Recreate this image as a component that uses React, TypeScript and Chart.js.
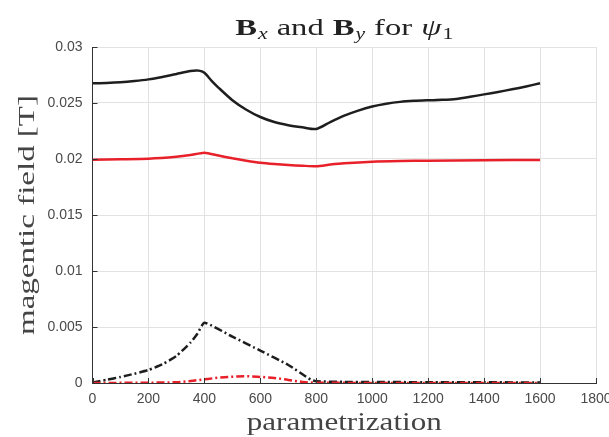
import React, { useEffect, useRef } from "react";
import { Chart, registerables } from "chart.js";

Chart.register(...registerables);

// ---- data ----
const xBx = [0, 50, 100, 150, 200, 250, 300, 350, 380, 400, 425, 450, 500, 550, 600, 650, 700, 750, 800, 850, 900, 950, 1000, 1050, 1100, 1150, 1200, 1250, 1300, 1350, 1400, 1450, 1500, 1550, 1600];
const bxSolid = [0.02676, 0.02679, 0.02685, 0.02696, 0.02711, 0.02733, 0.02759, 0.02786, 0.02789, 0.0277, 0.027, 0.02638, 0.02525, 0.0244, 0.02375, 0.0233, 0.02302, 0.02283, 0.02268, 0.0233, 0.02387, 0.02432, 0.02468, 0.02493, 0.0251, 0.02519, 0.02524, 0.02528, 0.02536, 0.02555, 0.02577, 0.02599, 0.02622, 0.02648, 0.02676];

const xBy = [0, 100, 200, 300, 350, 400, 450, 500, 550, 600, 650, 700, 750, 800, 850, 900, 1000, 1100, 1200, 1400, 1600];
const bySolid = [0.01994, 0.01998, 0.02003, 0.0202, 0.02035, 0.02056, 0.02031, 0.02006, 0.01985, 0.01967, 0.01955, 0.01946, 0.0194, 0.01935, 0.0195, 0.01962, 0.01976, 0.01982, 0.01985, 0.01989, 0.01991];

const xBxDash = [0, 50, 100, 150, 200, 250, 300, 350, 375, 400, 500, 600, 700, 780, 800, 900, 1000, 1200, 1400, 1600];
const bxDash = [0.00005, 0.00028, 0.00054, 0.00083, 0.00116, 0.00167, 0.00241, 0.0036, 0.0044, 0.00539, 0.00414, 0.00289, 0.00161, 0.0003, 0.00015, 0.0001, 0.00009, 0.00007, 0.00006, 0.00005];

const xByDash = [0, 200, 300, 350, 400, 450, 500, 550, 600, 650, 700, 750, 800, 1000, 1200, 1400, 1600];
const byDash = [0, 0.00003, 0.00007, 0.00018, 0.00033, 0.00047, 0.00056, 0.0006, 0.00054, 0.00045, 0.00027, 0.0001, 0.00002, 0.00001, 0.00001, 0.00001, 0.00001];

const xTicks = [0, 200, 400, 600, 800, 1000, 1200, 1400, 1600, 1800];
const xTickLabels = ["0", "200", "400", "600", "800", "1000", "1200", "1400", "1600", "1800"];
const yTicks = [0, 0.005, 0.01, 0.015, 0.02, 0.025, 0.03];
const yTickLabels = ["0", "0.005", "0.01", "0.015", "0.02", "0.025", "0.03"];

const xTitle = "parametrization";
const yTitle = "magentic field [T]";

const BLACK = "#1e1e1e";
const RED = "#e8202a";
const SERIF = "'Liberation Serif', 'DejaVu Serif', serif";
const SANS = "'Liberation Sans', Arial, sans-serif";

const pts = (xs: number[], ys: number[]) => xs.map((x, i) => ({ x, y: ys[i] }));

function stretchedText(ctx: CanvasRenderingContext2D, text: string, font: string, cx: number, cy: number, targetW: number, rot: number) {
  ctx.save();
  ctx.font = font;
  const w = ctx.measureText(text).width;
  const sx = targetW / w;
  ctx.translate(cx, cy);
  ctx.rotate(rot);
  ctx.scale(sx, 1);
  ctx.textAlign = "center";
  ctx.textBaseline = "middle";
  ctx.fillStyle = "#444";
  ctx.fillText(text, 0, 0);
  ctx.restore();
}

const titlePlugin = {
  id: "mathTitles",
  afterDraw(chart: any) {
    const ctx = chart.ctx as CanvasRenderingContext2D;
    const { left, right, top, bottom } = chart.chartArea;
    stretchedText(ctx, xTitle, `26px ${SERIF}`, (left + right) / 2, 423, 195, 0);
    stretchedText(ctx, yTitle, `24px ${SERIF}`, 28, (top + bottom) / 2, 240, -Math.PI / 2);

    const big = 24;
    const small = 16;
    const gap = 9;
    const segs: { t: string; f: string; dy: number; gapAfter: number }[] = [
      { t: "B", f: `bold ${big}px ${SERIF}`, dy: 0, gapAfter: 1 },
      { t: "x", f: `italic ${small}px ${SERIF}`, dy: 4, gapAfter: gap },
      { t: "and", f: `${big}px ${SERIF}`, dy: 0, gapAfter: gap },
      { t: "B", f: `bold ${big}px ${SERIF}`, dy: 0, gapAfter: 1 },
      { t: "y", f: `italic ${small}px ${SERIF}`, dy: 4, gapAfter: gap },
      { t: "for", f: `${big}px ${SERIF}`, dy: 0, gapAfter: gap },
      { t: "ψ", f: `italic ${big}px ${SERIF}`, dy: 0, gapAfter: 1 },
      { t: "1", f: `${small}px ${SERIF}`, dy: 4, gapAfter: 0 },
    ];
    ctx.save();
    let glyphW = 0;
    let gaps = 0;
    const widths = segs.map((s) => {
      ctx.font = s.f;
      const w = ctx.measureText(s.t).width;
      glyphW += w;
      gaps += s.gapAfter;
      return w;
    });
    const target = 218;
    const sx = (target - gaps) / glyphW;
    const cx = (left + right) / 2;
    let x = cx - target / 2;
    const base = 35;
    ctx.fillStyle = "#222";
    ctx.textBaseline = "alphabetic";
    ctx.textAlign = "left";
    segs.forEach((s, i) => {
      ctx.save();
      ctx.font = s.f;
      ctx.translate(x, base + s.dy);
      ctx.scale(sx, 1);
      ctx.fillText(s.t, 0, 0);
      ctx.restore();
      x += widths[i] * sx + s.gapAfter;
    });
    ctx.restore();
  },
};

const inwardTicks = {
  id: "inwardTicks",
  afterDatasetsDraw(chart: any) {
    const ctx = chart.ctx as CanvasRenderingContext2D;
    const { left, bottom } = chart.chartArea;
    const xs = chart.scales.x;
    const ys = chart.scales.y;
    ctx.save();
    ctx.strokeStyle = "#333";
    ctx.lineWidth = 1;
    ctx.beginPath();
    xTicks.forEach((v) => {
      const px = Math.round(xs.getPixelForValue(v)) + 0.5;
      ctx.moveTo(px, bottom);
      ctx.lineTo(px, bottom - 5);
    });
    yTicks.forEach((v) => {
      const py = Math.round(ys.getPixelForValue(v)) + 0.5;
      ctx.moveTo(left, py);
      ctx.lineTo(left + 5, py);
    });
    ctx.stroke();
    ctx.restore();
  },
};

const labelFor = (vals: number[], labels: string[]) => (v: any) => {
  const i = vals.findIndex((t) => Math.abs(t - Number(v)) < 1e-9);
  return i >= 0 ? labels[i] : "";
};

export default function App() {
  const ref = useRef<HTMLCanvasElement | null>(null);
  useEffect(() => {
    document.body.style.margin = "0";
    const dashDot = [8, 3, 2, 3];
    const chart = new Chart(ref.current!, {
      type: "line",
      data: {
        datasets: [
          { label: "By dash", data: pts(xByDash, byDash), borderColor: RED, borderWidth: 2.5, borderDash: dashDot, order: 0, cubicInterpolationMode: "monotone" },
          { label: "By", data: pts(xBy, bySolid), borderColor: RED, borderWidth: 2.5, order: 1, tension: 0.2 },
          { label: "Bx dash", data: pts(xBxDash, bxDash), borderColor: BLACK, borderWidth: 2.5, borderDash: dashDot, order: 2, tension: 0.15 },
          { label: "Bx", data: pts(xBx, bxSolid), borderColor: BLACK, borderWidth: 2.5, order: 3, tension: 0.25 },
        ],
      },
      options: {
        animation: false,
        responsive: false,
        maintainAspectRatio: false,
        elements: { point: { radius: 0 }, line: { fill: false, borderJoinStyle: "round", borderCapStyle: "butt" } },
        layout: { padding: { top: 47, right: 13, left: 0, bottom: 0 } },
        plugins: { legend: { display: false }, title: { display: false }, tooltip: { enabled: false } },
        scales: {
          x: {
            type: "linear",
            min: 0,
            max: 1800,
            afterBuildTicks: (s: any) => { s.ticks = xTicks.map((v) => ({ value: v })); },
            afterFit: (s: any) => { s.height = 54; s.paddingLeft = 0; s.paddingRight = 0; },
            ticks: { font: { family: SANS, size: 14 }, color: "#4a4a4a", padding: 8, maxRotation: 0, autoSkip: false, callback: labelFor(xTicks, xTickLabels) },
            grid: { color: "#e2e2e2", lineWidth: 1, drawTicks: false },
            border: { display: true, color: "#333", width: 1 },
          },
          y: {
            type: "linear",
            min: 0,
            max: 0.03,
            afterBuildTicks: (s: any) => { s.ticks = yTicks.map((v) => ({ value: v })); },
            afterFit: (s: any) => { s.width = 92.5; s.paddingTop = 0; s.paddingBottom = 0; },
            ticks: { font: { family: SANS, size: 14 }, color: "#4a4a4a", padding: 10, autoSkip: false, callback: labelFor(yTicks, yTickLabels) },
            grid: { color: "#e2e2e2", lineWidth: 1, drawTicks: false },
            border: { display: true, color: "#333", width: 1 },
          },
        },
      },
      plugins: [titlePlugin, inwardTicks],
    });
    return () => chart.destroy();
  }, []);
  return (
    <div style={{ width: 609, height: 437 }}>
      <canvas ref={ref} width={609} height={437} style={{ width: 609, height: 437, display: "block" }} />
    </div>
  );
}
